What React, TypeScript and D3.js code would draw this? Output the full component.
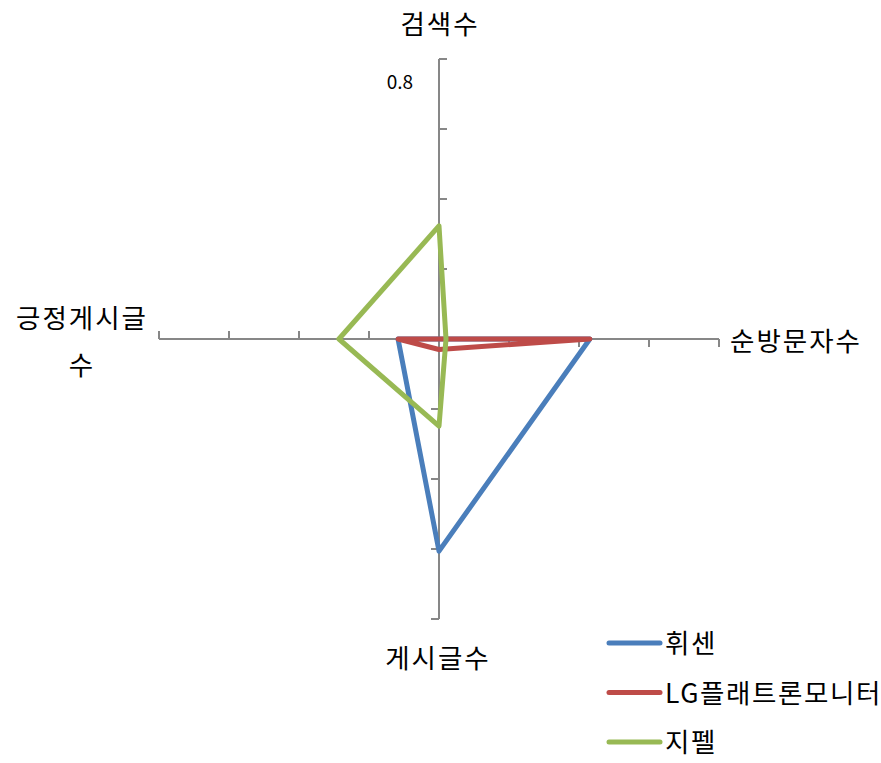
import * as d3 from "d3";
import React from "react";

const axes = ["검색수", "순방문자수", "게시글수", "긍정게시글수"];
const seriesNames = ["휘센", "LG플래트론모니터", "지펠"];
const seriesColors = ["#4a7ebb", "#be4b48", "#98b954"];
const whisenValues = [0.0, 0.431, 0.606, 0.117];
const lgValues = [0.0, 0.431, 0.03, 0.117];
const zipelValues = [0.323, 0.02, 0.249, 0.286];
const tickValues = [0, 0.2, 0.4, 0.6, 0.8];

const W = 881;
const H = 763;
const cx = 439;
const cy = 339;
const radius = 280;
const font = "'Noto Sans CJK KR', 'Noto Sans', sans-serif";
const fs = 26.5;

export default function App() {
  const r = d3.scaleLinear().domain([0, 0.8]).range([0, radius]);
  const angle = (i: number) => (i * 2 * Math.PI) / axes.length;
  const series = [whisenValues, lgValues, zipelValues];

  const line = d3
    .lineRadial<number>()
    .angle((_, i) => angle(i))
    .radius((d) => r(d))
    .curve(d3.curveLinearClosed);

  // tick marks rotate with their axis
  const tickLen = 8;

  return (
    <svg width={W} height={H} style={{ position: "absolute", left: 0, top: 0 }}>
      <g transform={`translate(${cx},${cy})`}>
        {axes.map((a, i) => {
          const t = angle(i);
          const dx = Math.sin(t);
          const dy = -Math.cos(t);
          // perpendicular, clockwise
          const px = Math.cos(t);
          const py = Math.sin(t);
          return (
            <g key={a}>
              <line
                x1={0}
                y1={0}
                x2={dx * r(0.8)}
                y2={dy * r(0.8)}
                stroke="#878787"
                strokeWidth={2}
              />
              {tickValues.slice(1).map((v) => (
                <line
                  key={v}
                  x1={dx * r(v)}
                  y1={dy * r(v)}
                  x2={dx * r(v) + px * tickLen}
                  y2={dy * r(v) + py * tickLen}
                  stroke="#878787"
                  strokeWidth={2}
                />
              ))}
            </g>
          );
        })}
        <text
          x={-26}
          y={-r(0.8) + 30}
          textAnchor="end"
          fontFamily={font}
          fontSize={19}
          fill="#000"
        >
          0.8
        </text>
        {series.map((vals, si) => (
          <path
            key={seriesNames[si]}
            d={line(vals) || ""}
            fill="none"
            stroke={seriesColors[si]}
            strokeWidth={5}
            strokeLinejoin="round"
          />
        ))}
      </g>
      <g fontFamily={font} fontSize={fs} fill="#000" letterSpacing={2}>
        <text x={440} y={34} textAnchor="middle">{axes[0]}</text>
        <text x={730} y={351}>{axes[1]}</text>
        <text x={438} y={668} textAnchor="middle">{axes[2]}</text>
        <text x={82} y={328} textAnchor="middle">{axes[3].slice(0, 5)}</text>
        <text x={82} y={375} textAnchor="middle">{axes[3].slice(5)}</text>
      </g>
      <g fontFamily={font} fontSize={fs} fill="#000" letterSpacing={1.6}>
        {seriesNames.map((n, i) => (
          <g key={n} transform={`translate(607,${643 + i * 49.5})`}>
            <line x1={2} x2={53} y1={0} y2={0} stroke={seriesColors[i]} strokeWidth={5} strokeLinecap="round" />
            <text x={58} y={10}>{n}</text>
          </g>
        ))}
      </g>
    </svg>
  );
}
